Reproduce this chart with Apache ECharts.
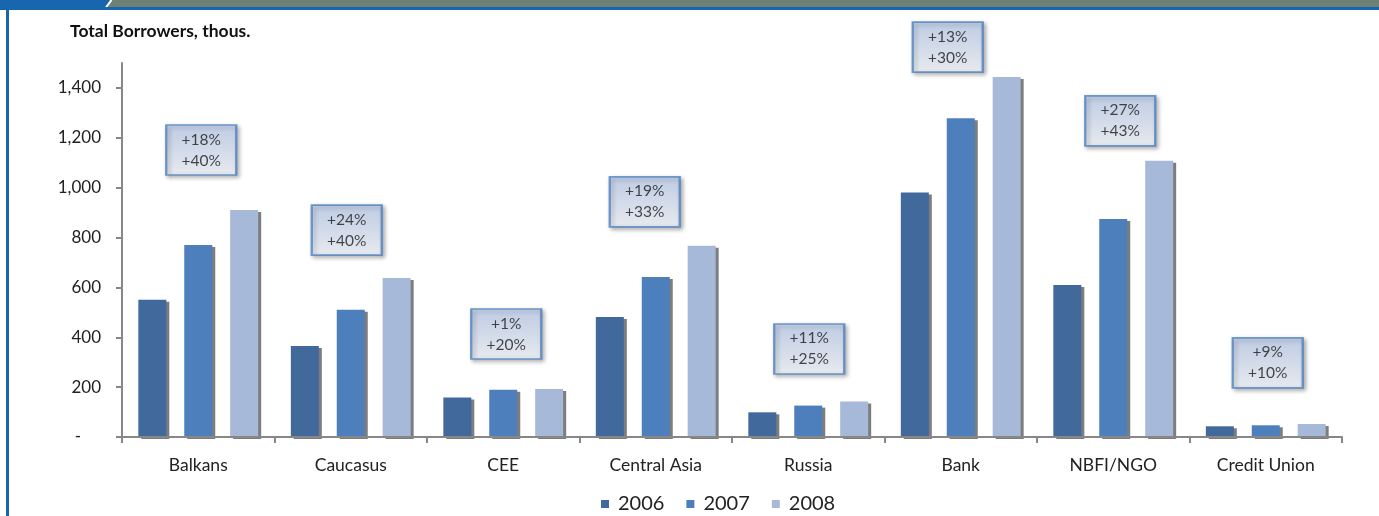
<!DOCTYPE html>
<html>
<head>
<meta charset="utf-8">
<script src="https://cdn.jsdelivr.net/npm/echarts@6/dist/echarts.min.js"></script>
<style>
html,body{margin:0;padding:0;background:#fff;}
#chart{width:1379px;height:516px;}
</style>
</head>
<body>
<div id="chart"></div>
<script>
// ---- data ----
const categories = ['Balkans', 'Caucasus', 'CEE', 'Central Asia', 'Russia', 'Bank', 'NBFI/NGO', 'Credit Union'];
const years = ['2006', '2007', '2008'];
const values2006 = [550, 365, 158, 481, 99, 981, 610, 43];
const values2007 = [770, 510, 190, 642, 126, 1278, 874, 47];
const values2008 = [910, 638, 193, 767, 142, 1444, 1108, 52];
const growth0708 = ['+18%', '+24%', '+1%', '+19%', '+11%', '+13%', '+27%', '+9%'];
const growth0607 = ['+40%', '+40%', '+20%', '+33%', '+25%', '+30%', '+43%', '+10%'];
const yTicks = [0, 200, 400, 600, 800, 1000, 1200, 1400];

// ---- layout / style (not data) ----
const noteLevel = [1151, 830, 413, 943, 353, 1564, 1268, 297]; // annotation box anchor in axis units
const noteShift = [3, -4, 3, -11, 1, -13, 7, 2];              // horizontal nudge of boxes, px
const colors = ['#41699c', '#4d7fbd', '#a7b9d9'];
const FONT = 'Lato';

const chart = echarts.init(document.getElementById('chart'), null, {renderer: 'canvas'});

const barSeries = [values2006, values2007, values2008].map((vals, i) => ({
  name: years[i],
  type: 'bar',
  data: vals,
  barWidth: 28,
  barGap: '64%',
  itemStyle: {
    color: colors[i],
    shadowColor: '#7d7d7d',
    shadowBlur: 0,
    shadowOffsetX: 3,
    shadowOffsetY: 2
  },
  z: 2
}));

const noteSeries = {
  type: 'scatter',
  name: 'notes',
  clip: false,
  silent: true,
  symbol: 'rect',
  symbolSize: [70, 50],
  z: 5,
  itemStyle: {
    color: new echarts.graphic.LinearGradient(0, 0, 0, 1, [
      {offset: 0, color: '#bfd0ee'},
      {offset: 1, color: '#f3f7fd'}
    ]),
    borderColor: '#4f82c2',
    borderWidth: 2,
    shadowColor: 'rgba(0,0,0,0.35)',
    shadowBlur: 4,
    shadowOffsetX: 2,
    shadowOffsetY: 2
  },
  label: {
    show: true,
    position: 'inside',
    fontFamily: FONT,
    fontSize: 15.5,
    lineHeight: 21,
    color: '#1a1a1a',
    formatter: p => growth0708[p.dataIndex] + '\n' + growth0607[p.dataIndex]
  },
  data: categories.map((c, i) => ({
    value: [c, noteLevel[i]],
    symbolOffset: [noteShift[i], 0]
  }))
};

const option = {
  animation: false,
  backgroundColor: '#fff',
  textStyle: {fontFamily: FONT},
  title: {
    text: 'Total Borrowers, thous.',
    left: 65,
    top: 17,
    textStyle: {fontFamily: FONT, fontSize: 17.5, fontWeight: 'bold', color: '#111'}
  },
  legend: {
    data: years,
    left: 596,
    top: 489,
    itemWidth: 8,
    itemHeight: 8,
    itemGap: 22,
    icon: 'rect',
    textStyle: {fontFamily: FONT, fontSize: 20, color: '#222', padding: [0, 0, 0, 4]}
  },
  grid: {left: 122, right: 37, top: 63, bottom: 79, containLabel: false},
  xAxis: {
    type: 'category',
    data: categories,
    z: 3,
    axisLine: {lineStyle: {color: '#878787', width: 2}},
    axisTick: {show: true, length: 6, lineStyle: {color: '#878787', width: 2}},
    axisLabel: {fontFamily: FONT, fontSize: 17.5, color: '#222', margin: 19}
  },
  yAxis: {
    type: 'value',
    min: 0,
    max: 1500,
    interval: 100,
    splitLine: {show: false},
    axisLine: {show: true, lineStyle: {color: '#878787', width: 2}},
    axisTick: {show: true, length: 6, lineStyle: {color: '#878787', width: 2}, customValues: yTicks},
    axisLabel: {
      fontFamily: FONT,
      fontSize: 17,
      color: '#222',
      margin: 21,
      customValues: yTicks,
      formatter: v => v === 0 ? '{d|-}' : v.toLocaleString('en-US'),
      rich: {d: {fontFamily: FONT, fontSize: 17, color: '#222', padding: [0, 20, 0, 0]}}
    }
  },
  series: [...barSeries, noteSeries],
  graphic: [
    {type: 'rect', shape: {x: 0, y: 0, width: 1379, height: 7}, style: {fill: '#6d8174'}, silent: true},
    {type: 'polygon', shape: {points: [[0, 0], [110, 0], [105, 7], [0, 7]]}, style: {fill: '#1766ae'}, silent: true},
    {type: 'line', shape: {x1: 106, y1: 7.5, x2: 111.5, y2: 0}, style: {stroke: '#ffffff', lineWidth: 2}, silent: true},
    {type: 'rect', shape: {x: 0, y: 7, width: 1379, height: 3}, style: {fill: '#1766ae'}, silent: true},
    {type: 'rect', shape: {x: 6, y: 7, width: 3, height: 509}, style: {fill: '#1766ae'}, silent: true}
  ]
};

chart.setOption(option);
</script>
</body>
</html>
